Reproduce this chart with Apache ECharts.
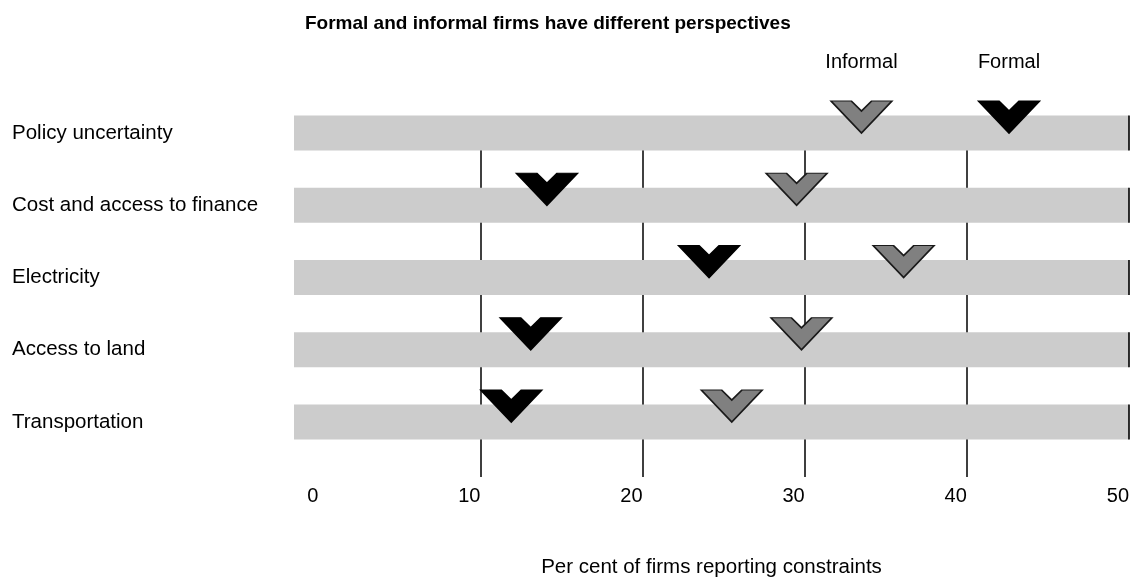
<!DOCTYPE html>
<html>
<head>
<meta charset="utf-8">
<script src="https://cdn.jsdelivr.net/npm/echarts@6/dist/echarts.min.js"></script>
<style>
  html, body { margin: 0; padding: 0; background: #fff; }
  #chart { width: 1138px; height: 579px; }
</style>
</head>
<body>
<div id="chart"></div>
<script>
const titleText = "Formal and informal firms have different perspectives";
const axisName = "Per cent of firms reporting constraints";
const categories = ["Policy uncertainty", "Cost and access to finance", "Electricity", "Access to land", "Transportation"];
const informal = [33.5, 29.5, 36.1, 29.8, 25.5];
const formal = [42.6, 14.1, 24.1, 13.1, 11.9];
const tickLabels = [0, 10, 20, 30, 40, 50];
const gridTicks = [10, 20, 30, 40];
const scaleMax = 50;

const font = "'Liberation Sans', Arial, sans-serif";
const chevron = "path://M0,0L20,0L30,10L40,0L60,0L30,32Z";

function markerSeries(name, values, fill, border) {
  return {
    name: name,
    type: "scatter",
    clip: false,
    symbol: chevron,
    symbolSize: [61, 32],
    symbolOffset: [0, -16],
    itemStyle: { color: fill, borderColor: border, borderWidth: 1.5, opacity: 1 },
    label: {
      show: true,
      position: "top",
      distance: 28,
      fontFamily: font,
      fontSize: 20,
      color: "#000",
      formatter: (p) => (p.dataIndex === 0 ? p.seriesName : "")
    },
    emphasis: { disabled: true },
    z: 5,
    data: values.map((v, i) => [v, i])
  };
}

const chart = echarts.init(document.getElementById("chart"));
chart.setOption({
  animation: false,
  backgroundColor: "#fff",
  title: {
    text: titleText,
    left: 300,
    top: 9,
    textStyle: { fontFamily: font, fontSize: 19, fontWeight: "bold", color: "#000" }
  },
  grid: { left: 294, right: 9, top: 133, bottom: 157 },
  xAxis: {
    type: "value",
    min: -1.5,
    max: scaleMax,
    name: axisName,
    nameLocation: "middle",
    nameGap: 135,
    nameTextStyle: { fontFamily: font, fontSize: 20.5, color: "#000" },
    axisLine: { show: false },
    axisTick: {
      show: true,
      customValues: gridTicks,
      length: 55,
      lineStyle: { color: "#000", width: 1.5 }
    },
    axisLabel: {
      customValues: tickLabels,
      align: "right",
      margin: 64,
      fontFamily: font,
      fontSize: 20,
      color: "#000"
    },
    splitLine: { show: true, lineStyle: { color: "#000", width: 1.5 } }
  },
  yAxis: {
    type: "category",
    inverse: true,
    boundaryGap: false,
    data: categories,
    axisLine: { show: false },
    axisTick: { show: false },
    axisLabel: {
      align: "left",
      margin: 282,
      fontFamily: font,
      fontSize: 20.5,
      color: "#000"
    },
    splitLine: { show: false }
  },
  series: [
    {
      type: "bar",
      clip: false,
      barWidth: 35,
      silent: true,
      showBackground: true,
      backgroundStyle: { color: "#cccccc" },
      itemStyle: { color: "rgba(0,0,0,0)" },
      data: formal
    },
    {
      type: "scatter",
      clip: false,
      symbol: "rect",
      symbolSize: [2, 35],
      itemStyle: { color: "#000" },
      silent: true,
      z: 3,
      data: categories.map((c, i) => [scaleMax, i])
    },
    markerSeries("Informal", informal, "#808080", "#1a1a1a"),
    markerSeries("Formal", formal, "#000", "#000")
  ]
});
</script>
</body>
</html>
